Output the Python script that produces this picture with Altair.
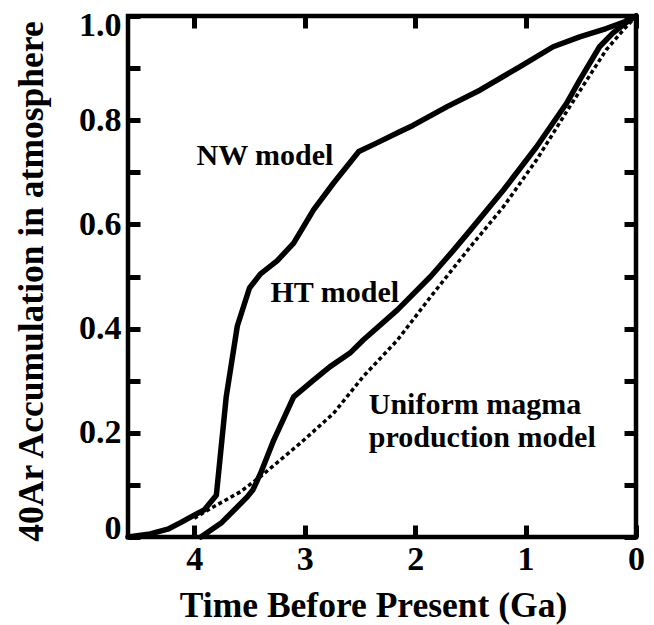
import altair as alt
import pandas as pd

# ---- data ----
nw_t = [4.60, 4.40, 4.24, 4.12, 4.00, 3.91, 3.80, 3.71, 3.61, 3.50, 3.40, 3.25, 3.10, 2.92, 2.74, 2.51, 2.35, 2.14, 2.02, 1.71, 1.41, 1.05, 0.75, 0.51, 0.27, 0.06, 0.00]
nw_v = [0.000, 0.006, 0.015, 0.028, 0.042, 0.052, 0.080, 0.270, 0.405, 0.478, 0.505, 0.530, 0.564, 0.628, 0.679, 0.740, 0.756, 0.778, 0.790, 0.826, 0.858, 0.903, 0.941, 0.960, 0.976, 0.992, 1.000]

ht_t = [3.94, 3.75, 3.52, 3.47, 3.40, 3.28, 3.10, 2.92, 2.77, 2.59, 2.47, 2.16, 1.86, 1.65, 1.50, 1.20, 0.90, 0.63, 0.51, 0.33, 0.21, 0.06, 0.00]
ht_v = [0.000, 0.028, 0.077, 0.090, 0.122, 0.186, 0.269, 0.301, 0.327, 0.353, 0.378, 0.436, 0.500, 0.551, 0.589, 0.666, 0.749, 0.832, 0.877, 0.941, 0.967, 0.992, 1.000]

um_t = [4.00, 3.85, 3.58, 3.40, 3.04, 2.74, 2.47, 2.16, 1.86, 1.50, 1.20, 0.90, 0.60, 0.27, 0.09, 0.02]
um_v = [0.036, 0.055, 0.087, 0.116, 0.180, 0.237, 0.308, 0.378, 0.461, 0.557, 0.634, 0.724, 0.826, 0.935, 0.979, 0.995]

label_text = ["NW model", "HT model", "Uniform magma", "production model"]
label_t = [3.98, 3.31, 2.42, 2.42]
label_v = [0.714, 0.451, 0.236, 0.173]

x_ticks = [4, 3, 2, 1, 0]
y_ticks = [0.0, 0.1, 0.2, 0.3, 0.4, 0.5, 0.6, 0.7, 0.8, 0.9, 1.0]

x_title = "Time Before Present (Ga)"
y_title = "40Ar Accumulation in atmosphere"

X_MIN, X_MAX = 0, 4.6
Y_MIN, Y_MAX = 0, 1

FONT = "Liberation Serif"

# ---- tables ----
df = pd.concat([
    pd.DataFrame({"t": nw_t, "v": nw_v, "model": "NW"}),
    pd.DataFrame({"t": ht_t, "v": ht_v, "model": "HT"}),
    pd.DataFrame({"t": um_t, "v": um_v, "model": "Uniform"}),
], ignore_index=True)
labels = pd.DataFrame({"t": label_t, "v": label_v, "label": label_text})

x_scale = alt.Scale(domain=[X_MIN, X_MAX], reverse=True, nice=False, zero=False)
y_scale = alt.Scale(domain=[Y_MIN, Y_MAX], nice=False)

# shared axis styling; ticks point into the frame (axis shifted inward by its tick length)
common_axis = dict(domain=False, grid=False, ticks=True, tickSize=12, offset=-12,
                   tickWidth=5, tickColor="#000000", tickOpacity=1, zindex=2,
                   labelColor="black", titleColor="black",
                   labelFont=FONT, labelFontWeight="bold", labelFontSize=34,
                   titleFont=FONT, titleFontWeight="bold", titleFontSize=35.5,
                   labelOverlap=False)

x_bottom = alt.Axis(orient="bottom", values=x_ticks, format="d", labelPadding=5,
                    labelFlush=False,
                    title=x_title, titleBaseline="alphabetic", titleY=91, titleX=245,
                    **common_axis)
y_left = alt.Axis(orient="left", values=y_ticks, labelPadding=7,
                  labelFlush=True, labelFlushOffset=8,
                  labelExpr="abs(datum.value) < 1e-9 ? '0' : (round(datum.value*10) % 2 == 0 ? format(datum.value, '.1f') : '')",
                  title=y_title, titleAngle=270, titleBaseline="alphabetic",
                  titleX=-98, titleY=265, titleAlign="center",
                  **common_axis)
x_top = alt.Axis(orient="top", values=x_ticks, labels=False, title=None, **common_axis)
y_right = alt.Axis(orient="right", values=y_ticks, labels=False, title=None, **common_axis)

base = alt.Chart(df)

solid = base.transform_filter(
    "datum.model == 'NW' || datum.model == 'HT'"
).mark_line(
    color="black", strokeWidth=5.5, strokeJoin="round", strokeCap="round"
).encode(
    x=alt.X("t:Q", scale=x_scale, axis=x_bottom),
    y=alt.Y("v:Q", scale=y_scale, axis=y_left),
    detail="model:N",
)

dotted = base.transform_filter("datum.model == 'Uniform'").mark_line(
    color="black", strokeWidth=3.5, strokeDash=[4, 3]
).encode(
    x=alt.X("t:Q", scale=x_scale, axis=x_bottom),
    y=alt.Y("v:Q", scale=y_scale, axis=y_left),
)

text = alt.Chart(labels).mark_text(
    align="left", baseline="alphabetic", font=FONT, fontWeight="bold",
    fontSize=30, color="black"
).encode(
    x=alt.X("t:Q", scale=x_scale, axis=x_top),
    y=alt.Y("v:Q", scale=y_scale, axis=y_right),
    text="label:N",
)

chart = alt.layer(alt.layer(solid, dotted), text).resolve_axis(
    x="independent", y="independent"
).properties(
    width=508, height=521,
    padding={"left": 128, "top": 16, "right": 18, "bottom": 88},
    autosize=alt.AutoSizeParams(type="none"),
    background="white",
).configure_axis(
    ticks=True, tickColor="#000000", tickWidth=5
).configure_view(
    stroke="black", strokeWidth=4.5
)

chart.save("out.html", embed_options={"renderer": "svg", "actions": False})
